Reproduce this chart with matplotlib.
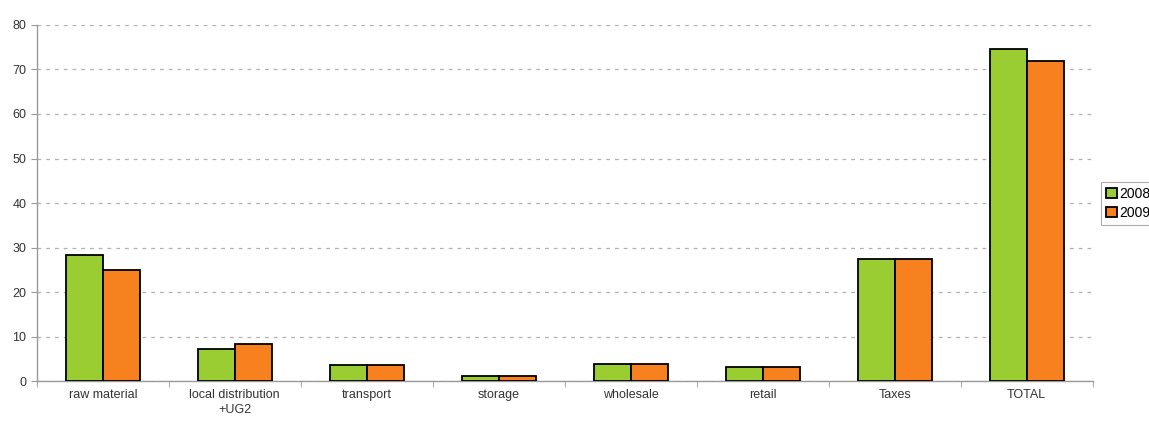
import numpy as np
import matplotlib
matplotlib.use("Agg")
import matplotlib.pyplot as plt
from matplotlib.ticker import MultipleLocator, FixedLocator

plt.rcParams['font.family'] = ['Liberation Sans', 'DejaVu Sans']

# -------------------------------
# DATA
# -------------------------------
categories = ["raw material", "local distribution\n+UG2", "transport", "storage",
              "wholesale", "retail", "Taxes", "TOTAL"]
values_2008 = [28.4, 7.2, 3.6, 1.1, 3.8, 3.1, 27.5, 74.5]
values_2009 = [25.0, 8.4, 3.6, 1.1, 3.8, 3.1, 27.5, 72.0]
series_labels = ["2008", "2009"]

GREEN = "#9acd32"
ORANGE = "#f7811f"

fig = plt.figure(figsize=(11.49, 4.23), dpi=100)
ax = fig.add_axes([0.032, 0.099, 0.919, 0.842])

x = np.arange(len(categories))
w = 0.28
ax.bar(x - w / 2, values_2008, w, color=GREEN, edgecolor="black", linewidth=1.3,
       label=series_labels[0], zorder=3)
ax.bar(x + w / 2, values_2009, w, color=ORANGE, edgecolor="black", linewidth=1.3,
       label=series_labels[1], zorder=3)

ax.set_xlim(-0.5, len(categories) - 0.5)
ax.set_ylim(0, 80)
ax.yaxis.set_major_locator(MultipleLocator(10))
ax.grid(axis="y", linestyle=(0, (3, 4)), color="#b0b0b0", linewidth=0.9, zorder=0)

ax.set_xticks(x)
ax.set_xticklabels(categories, fontsize=9, color="#333333", linespacing=1.25)
ax.xaxis.set_minor_locator(FixedLocator(np.arange(-0.5, len(categories), 1.0)))
ax.tick_params(axis="x", which="major", length=0, pad=6)
ax.tick_params(axis="x", which="minor", length=4, color="#999999", direction="out")
ax.tick_params(axis="y", labelsize=9, labelcolor="#333333", length=4,
               color="#999999", direction="out")

for side in ["top", "right"]:
    ax.spines[side].set_visible(False)
for side in ["left", "bottom"]:
    ax.spines[side].set_color("#999999")
    ax.spines[side].set_linewidth(1.0)

# legend sits partly outside the right edge, as in the original
leg = fig.legend(loc="upper left", bbox_to_anchor=(1101 / 1149, 1 - 182 / 423),
                 fontsize=10, frameon=True, fancybox=False, edgecolor="#999999",
                 handlelength=0.8, handleheight=0.8, handletextpad=0.2,
                 borderpad=0.35, labelspacing=0.35, borderaxespad=0)
leg.get_frame().set_linewidth(0.8)

fig.savefig("out.png", dpi=100)
